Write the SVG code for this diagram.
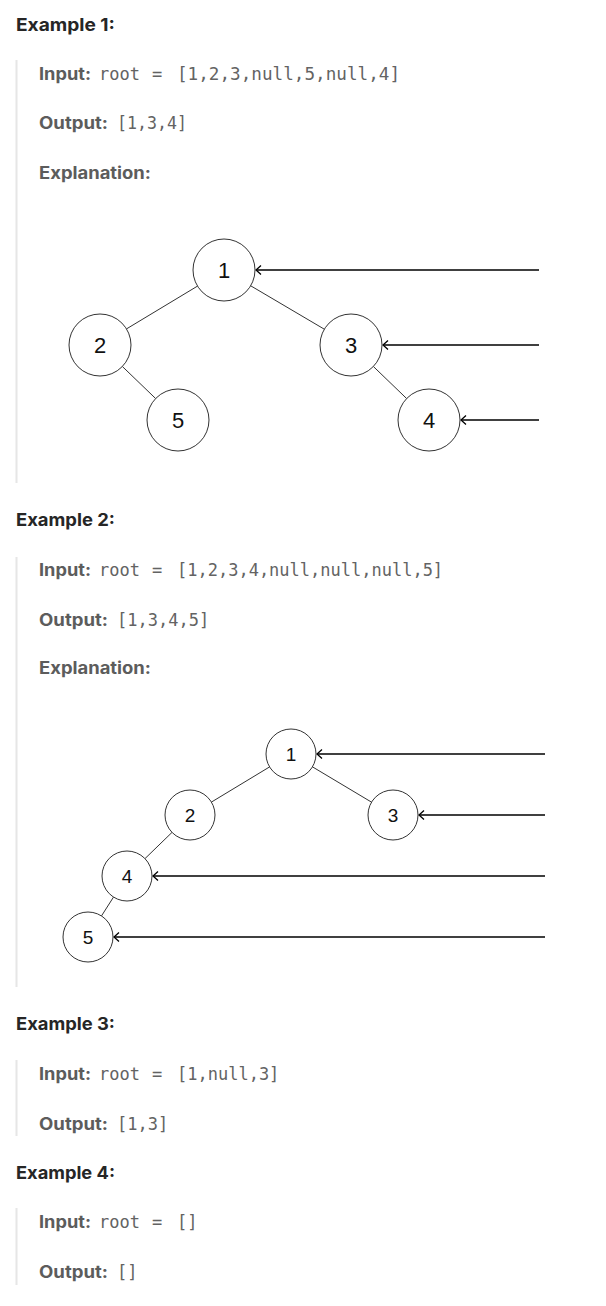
<svg xmlns="http://www.w3.org/2000/svg" width="606" height="1306" viewBox="0 0 606 1306">
<style>
.h{font-family:Inter,"Liberation Sans",sans-serif;font-weight:700;font-size:17.5px;fill:#262626}
.lb{font-family:Inter,"Liberation Sans",sans-serif;font-weight:700;font-size:17px;fill:#5c5c5c}
.mono{font-family:"DejaVu Sans Mono","Liberation Mono",monospace;font-size:17px;fill:#636363}
.bar{fill:#e6e6e6}
.node circle{fill:#fff;stroke:#333;stroke-width:1}
.n1 text{font-family:"Liberation Sans",Arial,sans-serif;font-size:22px;fill:#111;text-anchor:middle}
.n2 text{font-family:"Liberation Sans",Arial,sans-serif;font-size:19px;fill:#111;text-anchor:middle}
.edge{stroke:#333;stroke-width:1;fill:none}
.arrow{stroke:#000;stroke-width:1.4;fill:none;marker-end:url(#chev)}
</style>
<defs>
<marker id="chev" markerUnits="userSpaceOnUse" markerWidth="12" markerHeight="12" viewBox="-8 -6 10 12" refX="0" refY="0" orient="auto" overflow="visible">
<path d="M-5,-4.5 L0,0 L-5,4.5" fill="none" stroke="#000" stroke-width="1.3"/>
</marker>
</defs>
<rect width="606" height="1306" fill="#fff"/>

<g id="example1">
<text class="h" x="16" y="31" textLength="99" lengthAdjust="spacingAndGlyphs">Example 1:</text>
<rect class="bar" x="15.5" y="60" width="2" height="423"/>
<text class="lb" x="39" y="80" textLength="52" lengthAdjust="spacingAndGlyphs">Input:</text>
<text class="mono" y="80"><tspan x="99">root</tspan><tspan x="152">=</tspan><tspan x="177" textLength="223" lengthAdjust="spacingAndGlyphs">[1,2,3,null,5,null,4]</tspan></text>
<text class="lb" x="39" y="129" textLength="69" lengthAdjust="spacingAndGlyphs">Output:</text>
<text class="mono" x="117" y="129" textLength="70" lengthAdjust="spacingAndGlyphs">[1,3,4]</text>
<text class="lb" x="39" y="179" textLength="112" lengthAdjust="spacingAndGlyphs">Explanation:</text>
</g>

<g id="tree1-connectors">
<line class="edge" x1="197.5" y1="286.1" x2="126.5" y2="328.9"/>
<line class="edge" x1="250.7" y1="285.8" x2="324.3" y2="329.2"/>
<line class="edge" x1="122.4" y1="366.5" x2="155.6" y2="398.5"/>
<line class="edge" x1="373.4" y1="366.5" x2="406.6" y2="398.5"/>
<line class="arrow" x1="539" y1="270" x2="256" y2="270"/>
<line class="arrow" x1="539" y1="345" x2="383" y2="345"/>
<line class="arrow" x1="539" y1="420" x2="461" y2="420"/>
</g>
<g id="t1-node1" class="node n1"><circle cx="224" cy="270" r="31"/><text x="224" y="278">1</text></g>
<g id="t1-node2" class="node n1"><circle cx="100" cy="345" r="31"/><text x="100" y="353">2</text></g>
<g id="t1-node3" class="node n1"><circle cx="351" cy="345" r="31"/><text x="351" y="353">3</text></g>
<g id="t1-node5" class="node n1"><circle cx="178" cy="420" r="31"/><text x="178" y="428">5</text></g>
<g id="t1-node4" class="node n1"><circle cx="429" cy="420" r="31"/><text x="429" y="428">4</text></g>

<g id="example2">
<text class="h" x="16" y="526" textLength="99" lengthAdjust="spacingAndGlyphs">Example 2:</text>
<rect class="bar" x="15.5" y="557" width="2" height="430"/>
<text class="lb" x="39" y="576" textLength="52" lengthAdjust="spacingAndGlyphs">Input:</text>
<text class="mono" y="576"><tspan x="99">root</tspan><tspan x="152">=</tspan><tspan x="177">[1,2,3,4,null,null,null,5]</tspan></text>
<text class="lb" x="39" y="626" textLength="69" lengthAdjust="spacingAndGlyphs">Output:</text>
<text class="mono" x="117" y="626">[1,3,4,5]</text>
<text class="lb" x="39" y="674" textLength="112" lengthAdjust="spacingAndGlyphs">Explanation:</text>
</g>

<g id="tree2-connectors">
<line class="edge" x1="269.6" y1="766.9" x2="211.4" y2="802.1"/>
<line class="edge" x1="312.4" y1="766.8" x2="371.6" y2="802.2"/>
<line class="edge" x1="172.0" y1="832.4" x2="145.0" y2="858.6"/>
<line class="edge" x1="113.5" y1="897.1" x2="101.5" y2="915.9"/>
<line class="arrow" x1="545" y1="754" x2="317" y2="754"/>
<line class="arrow" x1="545" y1="815" x2="419" y2="815"/>
<line class="arrow" x1="545" y1="876" x2="153" y2="876"/>
<line class="arrow" x1="545" y1="937" x2="114" y2="937"/>
</g>
<g id="t2-node1" class="node n2"><circle cx="291" cy="754" r="25"/><text x="291" y="761">1</text></g>
<g id="t2-node2" class="node n2"><circle cx="190" cy="815" r="25"/><text x="190" y="822">2</text></g>
<g id="t2-node3" class="node n2"><circle cx="393" cy="815" r="25"/><text x="393" y="822">3</text></g>
<g id="t2-node4" class="node n2"><circle cx="127" cy="876" r="25"/><text x="127" y="883">4</text></g>
<g id="t2-node5" class="node n2"><circle cx="88" cy="937" r="25"/><text x="88" y="944">5</text></g>

<g id="example3">
<text class="h" x="16" y="1030" textLength="99" lengthAdjust="spacingAndGlyphs">Example 3:</text>
<rect class="bar" x="15.5" y="1060" width="2" height="76"/>
<text class="lb" x="39" y="1080" textLength="52" lengthAdjust="spacingAndGlyphs">Input:</text>
<text class="mono" y="1080"><tspan x="99">root</tspan><tspan x="152">=</tspan><tspan x="177">[1,null,3]</tspan></text>
<text class="lb" x="39" y="1130" textLength="69" lengthAdjust="spacingAndGlyphs">Output:</text>
<text class="mono" x="117" y="1130">[1,3]</text>
</g>

<g id="example4">
<text class="h" x="16" y="1179" textLength="99" lengthAdjust="spacingAndGlyphs">Example 4:</text>
<rect class="bar" x="15.5" y="1208" width="2" height="77"/>
<text class="lb" x="39" y="1228" textLength="52" lengthAdjust="spacingAndGlyphs">Input:</text>
<text class="mono" y="1228"><tspan x="99">root</tspan><tspan x="152">=</tspan><tspan x="177">[]</tspan></text>
<text class="lb" x="39" y="1278" textLength="69" lengthAdjust="spacingAndGlyphs">Output:</text>
<text class="mono" x="117" y="1278">[]</text>
</g>
</svg>
